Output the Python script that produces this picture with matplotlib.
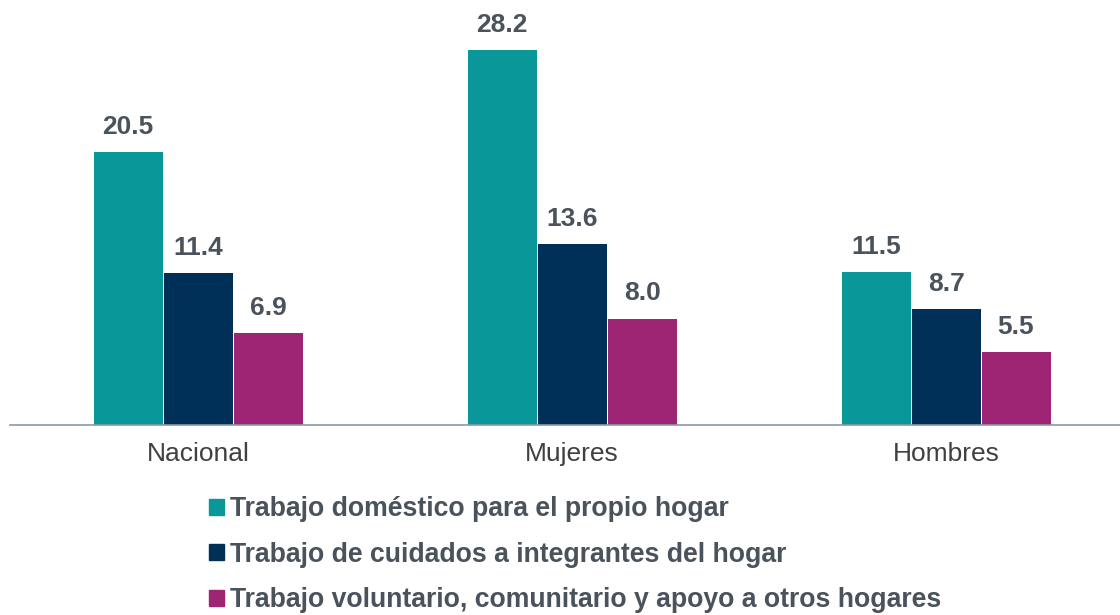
import matplotlib.pyplot as plt
from matplotlib.patches import Patch
import numpy as np

plt.rcParams['font.family'] = ['Liberation Sans', 'DejaVu Sans']

categories = ['Nacional', 'Mujeres', 'Hombres']
series_names = ['Trabajo doméstico para el propio hogar',
                'Trabajo de cuidados a integrantes del hogar',
                'Trabajo voluntario, comunitario y apoyo a otros hogares']
domestico = [20.5, 28.2, 11.5]
cuidados = [11.4, 13.6, 8.7]
voluntario = [6.9, 8.0, 5.5]

colors = ['#0a9799', '#003057', '#9e2573']
text_gray = '#4a525c'

fig = plt.figure(figsize=(11.2, 6.15), dpi=100)
ax = fig.add_axes([10 / 1120, 190 / 615, 1110 / 1120, 425 / 615])

x = np.arange(len(categories))
w = 0.1845
step = 0.187
for i, (vals, c) in enumerate(zip([domestico, cuidados, voluntario], colors)):
    bars = ax.bar(x + (i - 1) * step, vals, width=w, color=c, zorder=2)
    for b, v in zip(bars, vals):
        ax.text(b.get_x() + b.get_width() / 2, v + 1.0, f'{v:.1f}',
                ha='center', va='bottom', fontsize=19, fontweight='bold',
                color=text_gray)

ax.set_xlim(-0.503, 2.465)
ax.set_ylim(0, 31.95)
for s in ['top', 'right', 'left']:
    ax.spines[s].set_visible(False)
ax.spines['bottom'].set_color('#8a99a6')
ax.spines['bottom'].set_linewidth(1.2)
ax.set_yticks([])
ax.set_xticks(x)
ax.set_xticklabels(categories, fontsize=19, color='#404040')
ax.tick_params(axis='x', length=0, pad=12)

handles = [Patch(color=c) for c in colors]
leg = fig.legend(handles, series_names, loc='upper left',
                 bbox_to_anchor=(209 / 1120, 1 - 496 / 615), frameon=False,
                 handlelength=0.55, handleheight=0.55, handletextpad=0.22,
                 labelspacing=0.74, borderaxespad=0, borderpad=0,
                 prop={'size': 19.2, 'weight': 'bold'})
for t in leg.get_texts():
    t.set_color(text_gray)

fig.savefig('out.png', dpi=100)
